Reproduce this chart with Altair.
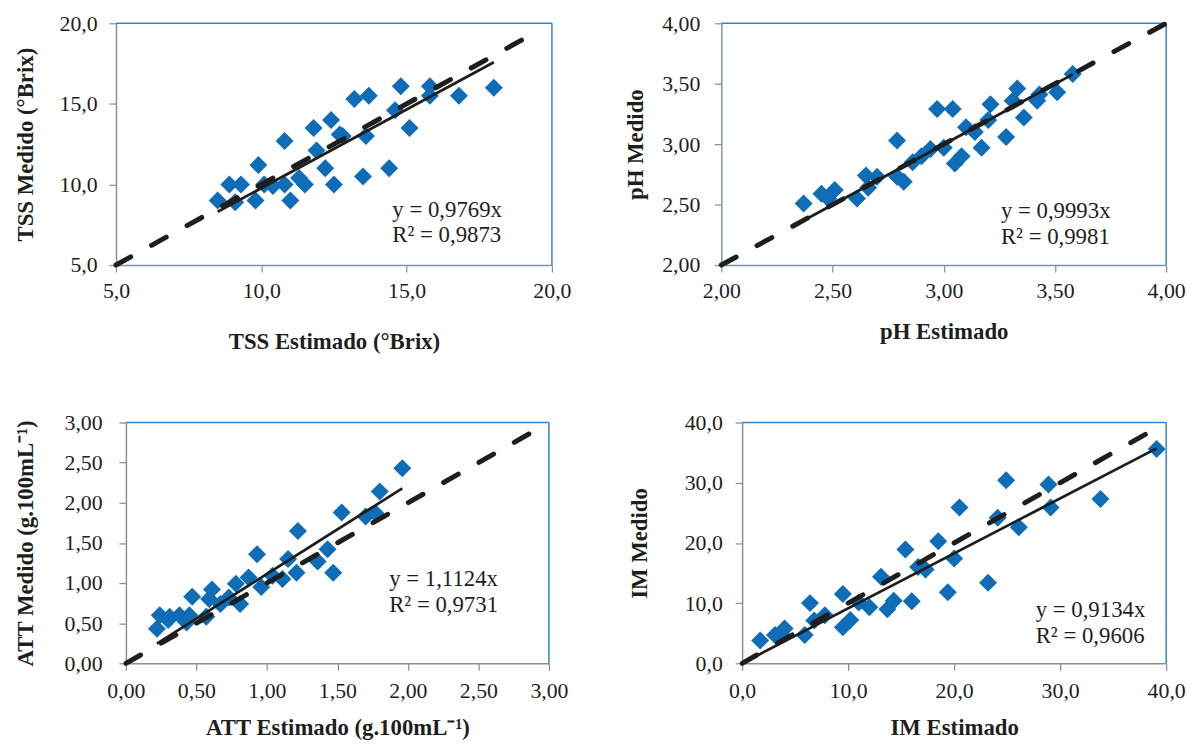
import altair as alt
import pandas as pd

SERIF = "Liberation Serif"
BLUE = "#0F6DB7"
INK = "#1E1E1E"
FRAME = "#2f86d0"

# ---------------- data ----------------
tss_est = [8.5, 8.9, 9.3, 9.1, 9.8, 9.9, 10.1, 10.4, 10.8, 10.8, 11.0, 11.3, 11.5, 11.8, 11.9, 12.2,
           12.4, 12.5, 12.7, 12.8, 13.2, 13.7, 13.5, 13.6, 14.4, 14.6, 14.8, 15.1, 15.8, 15.8, 16.8, 18.0]
tss_med = [9.0, 10.0, 10.0, 8.9, 9.0, 11.2, 10.0, 9.9, 12.7, 10.0, 9.0, 10.4, 10.0, 13.5, 12.1, 11.0,
           14.0, 10.0, 13.1, 13.0, 15.3, 15.5, 10.5, 13.0, 11.0, 14.6, 16.1, 13.5, 16.1, 15.5, 15.5, 16.0]

ph_est = [2.37, 2.45, 2.48, 2.51, 2.61, 2.65, 2.66, 2.70, 2.79, 2.79, 2.82, 2.86, 2.90, 2.94, 2.97, 3.00,
          3.04, 3.05, 3.08, 3.10, 3.14, 3.17, 3.20, 3.21, 3.28, 3.31, 3.33, 3.36, 3.42, 3.43, 3.51, 3.58]
ph_med = [2.51, 2.59, 2.55, 2.62, 2.55, 2.74, 2.64, 2.73, 3.03, 2.73, 2.69, 2.85, 2.90, 2.96, 3.29, 2.97,
          3.29, 2.84, 2.90, 3.14, 3.10, 2.97, 3.20, 3.33, 3.06, 3.36, 3.46, 3.22, 3.36, 3.41, 3.43, 3.58]

att_est = [0.22, 0.24, 0.31, 0.30, 0.38, 0.43, 0.45, 0.47, 0.57, 0.59, 0.61, 0.67, 0.73, 0.78, 0.81, 0.87,
           0.93, 0.96, 1.04, 1.11, 1.15, 1.21, 1.22, 1.36, 1.43, 1.47, 1.53, 1.70, 1.77, 1.80, 1.96]
att_med = [0.43, 0.60, 0.58, 0.54, 0.60, 0.51, 0.60, 0.83, 0.58, 0.80, 0.92, 0.74, 0.82, 0.99, 0.74, 1.07,
           1.36, 0.95, 1.09, 1.05, 1.30, 1.13, 1.65, 1.27, 1.42, 1.13, 1.88, 1.83, 1.87, 2.14, 2.43]

im_est = [1.7, 3.1, 3.6, 4.0, 5.9, 6.4, 6.8, 7.8, 9.5, 9.5, 10.2, 11.0, 12.0, 13.1, 13.7, 14.3,
          15.4, 16.0, 16.6, 17.3, 18.5, 19.4, 20.0, 20.5, 23.2, 24.1, 24.9, 26.1, 28.9, 29.1, 33.8, 39.1]
im_med = [3.8, 4.7, 4.9, 5.8, 4.7, 10.0, 7.1, 8.0, 11.5, 6.0, 7.2, 10.1, 9.3, 14.4, 9.0, 10.4,
          18.9, 10.3, 16.0, 15.6, 20.3, 11.8, 17.4, 25.9, 13.4, 24.2, 30.4, 22.6, 29.7, 25.9, 27.3, 35.6]

# trend-line slopes and ranges, 1:1 reference line ranges
tss_slope, tss_fit_x, tss_ref_x = 0.9769, [8.5, 18.0], [5.0, 19.5]
ph_slope, ph_fit_x, ph_ref_x = 0.9993, [2.37, 3.58], [2.0, 4.0]
att_slope, att_fit_x, att_ref_x = 1.1124, [0.22, 1.96], [0.0, 2.93]
im_slope, im_fit_x, im_ref_x = 0.9134, [0.0, 39.1], [0.0, 39.1]

# equation labels
tss_eq = ["y = 0,9769x", "R² = 0,9873"]
ph_eq = ["y = 0,9993x", "R² = 0,9981"]
att_eq = ["y = 1,1124x", "R² = 0,9731"]
im_eq = ["y = 0,9134x", "R² = 0,9606"]
tss_eq_pos = (14.51, [8.40, 6.88])
ph_eq_pos = (3.257, [2.445, 2.232])
att_eq_pos = (1.867, [1.051, 0.725])
im_eq_pos = (27.69, [8.85, 4.59])

# axes
tss_ticks = [5.0, 10.0, 15.0, 20.0]
ph_ticks = [2.0, 2.5, 3.0, 3.5, 4.0]
att_ticks = [0.0, 0.5, 1.0, 1.5, 2.0, 2.5, 3.0]
im_ticks = [0.0, 10.0, 20.0, 30.0, 40.0]


def panel(est, med, slope, fit_x, ref_x, eq, eq_pos, ticks, dec, xtitle, ytitle,
          w, h, xlp, xtp, ylp, ytp, xoff=0):
    lo, hi = ticks[0], ticks[-1]
    expr = f"replace(format(datum.value, '.{dec}f'), '.', ',')"
    xs = alt.Scale(domain=[lo, hi], nice=False, zero=False, range=[xoff, w + xoff])
    ys = alt.Scale(domain=[lo, hi], nice=False, zero=False)
    xa = alt.Axis(title=xtitle, values=ticks, labelExpr=expr, labelPadding=xlp, titlePadding=xtp)
    ya = alt.Axis(title=ytitle, values=ticks, labelExpr=expr, labelPadding=ylp, titlePadding=ytp,
                  offset=-xoff)

    def X(f="x"):
        return alt.X(f"{f}:Q", scale=xs, axis=xa)

    def Y(f="y"):
        return alt.Y(f"{f}:Q", scale=ys, axis=ya)

    frame = alt.Chart(pd.DataFrame({"x": [lo, hi], "x2": [hi, hi], "y": [hi, lo], "y2": [hi, hi]})
                      ).mark_rule(color=FRAME, strokeWidth=1.5).encode(
        x=X(), x2="x2:Q", y=Y(), y2="y2:Q")
    pts = alt.Chart(pd.DataFrame({"x": est, "y": med})).mark_point(
        shape="diamond", filled=True, size=330, color=BLUE, opacity=1).encode(x=X(), y=Y())
    ref = alt.Chart(pd.DataFrame({"x": ref_x, "y": ref_x})).mark_line(
        color=INK, strokeWidth=5, strokeDash=[17, 24], strokeCap="round").encode(x=X(), y=Y())
    fit = alt.Chart(pd.DataFrame({"x": fit_x, "y": [slope * v for v in fit_x]})).mark_line(
        color=INK, strokeWidth=2.8).encode(x=X(), y=Y())
    txt = alt.Chart(pd.DataFrame({"x": [eq_pos[0]] * 2, "y": eq_pos[1], "t": eq})).mark_text(
        align="left", baseline="middle", font=SERIF, fontSize=23, color=INK).encode(
        x=X(), y=Y(), text="t:N")
    return alt.layer(frame, pts, ref, fit, txt).properties(width=w + xoff, height=h)


p1 = panel(tss_est, tss_med, tss_slope, tss_fit_x, tss_ref_x, tss_eq, tss_eq_pos, tss_ticks, 1,
           "TSS Estimado (°Brix)", "TSS Medido (°Brix)", 440, 244, 9, 29, 12, 21.5)
p2 = panel(ph_est, ph_med, ph_slope, ph_fit_x, ph_ref_x, ph_eq, ph_eq_pos, ph_ticks, 2,
           "pH Estimado", "pH Medido", 449, 244, 9, 19, 14.7, 14.2)
p3 = panel(att_est, att_med, att_slope, att_fit_x, att_ref_x, att_eq, att_eq_pos, att_ticks, 2,
           "ATT Estimado (g.100mL⁻¹)", "ATT Medido (g.100mL⁻¹)", 427, 243, 10.5, 15, 17, 26.5,
           xoff=10)
p4 = panel(im_est, im_med, im_slope, im_fit_x, im_ref_x, im_eq, im_eq_pos, im_ticks, 1,
           "IM Estimado", "IM Medido", 428, 243, 10.5, 15, 13, 33)

row1 = alt.hconcat(p1, p2, spacing=53)
row2 = alt.hconcat(p3, p4, spacing=60)

chart = alt.vconcat(row1, row2, spacing=57).properties(
    padding={"left": 6, "top": 0, "right": 0, "bottom": 0}
).configure_axis(
    labelFont=SERIF, labelFontSize=22, labelColor=INK,
    titleFont=SERIF, titleFontSize=23, titleFontWeight="bold", titleColor=INK,
    grid=False, tickSize=7, tickColor="#8a8a8a", tickWidth=1.2,
    domainColor="#7f93a8", domainWidth=1.5, labelFlush=False, labelOverlap=False,
).configure_view(stroke="transparent")

chart.save("out.html", embed_options={"renderer": "svg", "actions": False})
